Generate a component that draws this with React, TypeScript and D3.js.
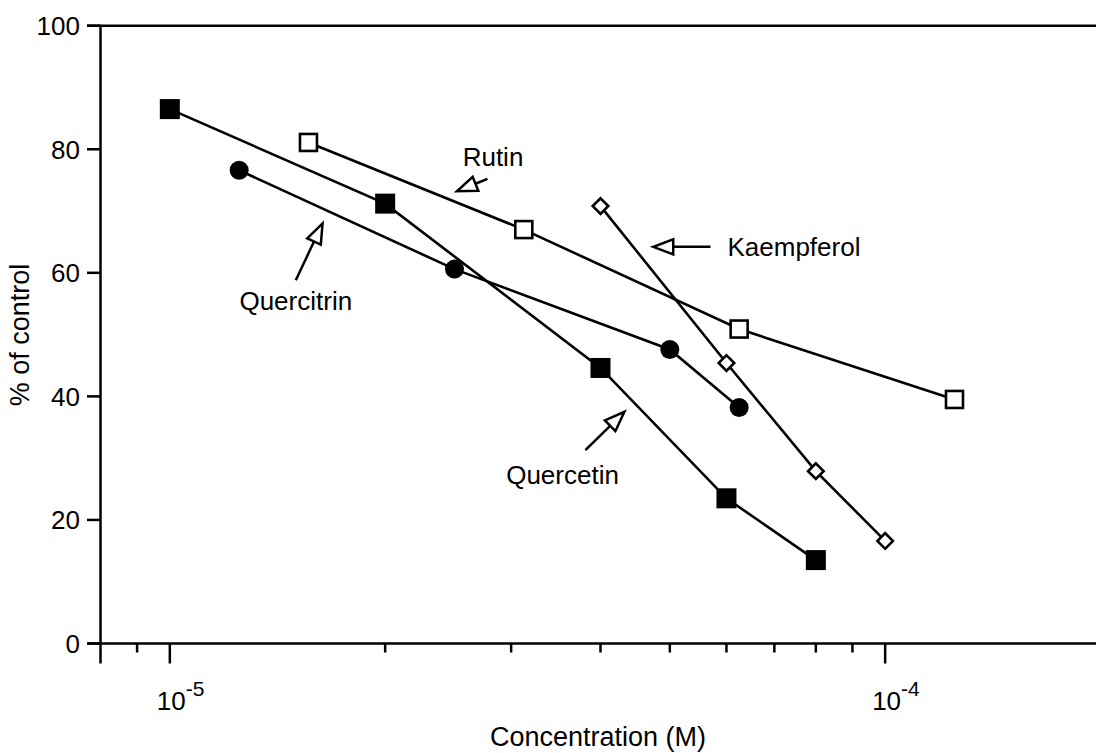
import React from "react";
import * as d3 from "d3";

// ---- data ----
const quercetinConc = [1e-5, 2e-5, 4e-5, 6e-5, 8e-5];
const quercetinPct = [86.5, 71.2, 44.6, 23.5, 13.5];

const quercitrinConc = [1.25e-5, 2.5e-5, 5e-5, 6.25e-5];
const quercitrinPct = [76.6, 60.6, 47.6, 38.2];

const rutinConc = [1.5625e-5, 3.125e-5, 6.25e-5, 1.25e-4];
const rutinPct = [81.1, 67.0, 50.9, 39.5];

const kaempferolConc = [4e-5, 6e-5, 8e-5, 1e-4];
const kaempferolPct = [70.8, 45.4, 27.9, 16.6];

const yTicks = [0, 20, 40, 60, 80, 100];
const xMajorTicks = [1e-5, 1e-4];
const xMajorExp = ["-5", "-4"];
const xMinorTicks = [9e-6, 2e-5, 3e-5, 4e-5, 5e-5, 6e-5, 7e-5, 8e-5, 9e-5];

// annotations (in data units)
const annLabels = ["Rutin", "Quercitrin", "Kaempferol", "Quercetin"];
const annText: [number, number, string][] = [
  [2.83e-5, 77.3, "middle"],
  [1.5e-5, 54.0, "middle"],
  [6.02e-5, 62.8, "start"],
  [3.54e-5, 25.8, "middle"],
];
const annArrow: [number, number, number, number][] = [
  [2.78e-5, 75.2, 2.52e-5, 73.2],
  [1.5e-5, 58.8, 1.635e-5, 68.0],
  [5.7e-5, 64.2, 4.74e-5, 64.2],
  [3.81e-5, 31.3, 4.32e-5, 37.5],
];

const W = 1096;
const H = 753;
const FONT = "'Liberation Sans', Arial, Helvetica, sans-serif";
const FS = 26;

export default function App() {
  const x = d3.scaleLog().domain([8e-6, 2e-4]).range([100.5, 1100.5]);
  const y = d3.scaleLinear().domain([0, 100]).range([643.5, 25.7]);
  const line = d3
    .line<[number, number]>()
    .x((d) => x(d[0]))
    .y((d) => y(d[1]));
  const zip = (a: number[], b: number[]) => a.map((v, i) => [v, b[i]] as [number, number]);

  const q = zip(quercetinConc, quercetinPct);
  const qt = zip(quercitrinConc, quercitrinPct);
  const r = zip(rutinConc, rutinPct);
  const k = zip(kaempferolConc, kaempferolPct);
  const SW = 2.6;

  const arrowHead = (x1: number, y1: number, x2: number, y2: number) => {
    const dx = x2 - x1, dy = y2 - y1;
    const L = Math.hypot(dx, dy);
    const ux = dx / L, uy = dy / L;
    const len = 20, half = 7.5;
    const bx = x2 - ux * len, by = y2 - uy * len;
    const px = -uy, py = ux;
    return {
      pts: `${x2},${y2} ${bx + px * half},${by + py * half} ${bx - px * half},${by - py * half}`,
      bx, by,
    };
  };

  return (
    <svg width={W} height={H} style={{ position: "fixed", left: 0, top: 0, background: "#fff" }}
      fontFamily={FONT}>
      <rect x={0} y={0} width={W} height={H} fill="#fff" />
      {/* frame */}
      <line x1={87} x2={W} y1={y(100)} y2={y(100)} stroke="#000" strokeWidth={2.5} />
      <line x1={87} x2={W} y1={y(0)} y2={y(0)} stroke="#000" strokeWidth={2.5} />
      <line x1={x(8e-6)} x2={x(8e-6)} y1={y(100)} y2={y(0) + 20} stroke="#000" strokeWidth={2.5} />
      {/* y ticks */}
      {yTicks.map((t) => (
        <g key={t}>
          <line x1={87} x2={x(8e-6)} y1={y(t)} y2={y(t)} stroke="#000" strokeWidth={2.5} />
          <text x={80} y={y(t) + 9.3} textAnchor="end" fontSize={FS}>{t}</text>
        </g>
      ))}
      {/* x ticks */}
      {xMinorTicks.map((t) => (
        <line key={t} x1={x(t)} x2={x(t)} y1={y(0)} y2={y(0) + 9} stroke="#000" strokeWidth={2.5} />
      ))}
      {xMajorTicks.map((t, i) => (
        <g key={t}>
          <line x1={x(t)} x2={x(t)} y1={y(0)} y2={y(0) + 20} stroke="#000" strokeWidth={2.5} />
          <text x={x(t) - 13} y={710} fontSize={FS}>
            10
            <tspan dy={-14} fontSize={21}>{xMajorExp[i]}</tspan>
          </text>
        </g>
      ))}
      {/* axis titles */}
      <text x={598} y={746} textAnchor="middle" fontSize={27}>Concentration (M)</text>
      <text transform="translate(29,335) rotate(-90)" textAnchor="middle" fontSize={27}>% of control</text>

      {/* lines */}
      {[q, qt, r, k].map((s, i) => (
        <path key={i} d={line(s) || ""} fill="none" stroke="#000" strokeWidth={SW} />
      ))}
      {/* markers */}
      {q.map((d, i) => (
        <rect key={"q" + i} x={x(d[0]) - 10} y={y(d[1]) - 10} width={20} height={20} fill="#000" />
      ))}
      {qt.map((d, i) => (
        <circle key={"qt" + i} cx={x(d[0])} cy={y(d[1])} r={9.5} fill="#000" />
      ))}
      {r.map((d, i) => (
        <rect key={"r" + i} x={x(d[0]) - 8.5} y={y(d[1]) - 8.5} width={17} height={17} fill="#fff"
          stroke="#000" strokeWidth={2.6} />
      ))}
      {k.map((d, i) => (
        <rect key={"k" + i} x={x(d[0]) - 5.5} y={y(d[1]) - 5.5} width={11} height={11} fill="#fff"
          stroke="#000" strokeWidth={2.6} transform={`rotate(45 ${x(d[0])} ${y(d[1])})`} />
      ))}

      {/* annotations */}
      {annLabels.map((lab, i) => {
        const [tc, tp, anc] = annText[i];
        const [ac, ap, bc, bp] = annArrow[i];
        const x1 = x(ac), y1 = y(ap), x2 = x(bc), y2 = y(bp);
        const h = arrowHead(x1, y1, x2, y2);
        return (
          <g key={lab}>
            <line x1={x1} y1={y1} x2={h.bx} y2={h.by} stroke="#000" strokeWidth={2.5} />
            <polygon points={h.pts} fill="#fff" stroke="#000" strokeWidth={2.5} strokeLinejoin="miter" />
            <text x={x(tc)} y={y(tp)} textAnchor={anc as any} fontSize={FS}>{lab}</text>
          </g>
        );
      })}
    </svg>
  );
}
